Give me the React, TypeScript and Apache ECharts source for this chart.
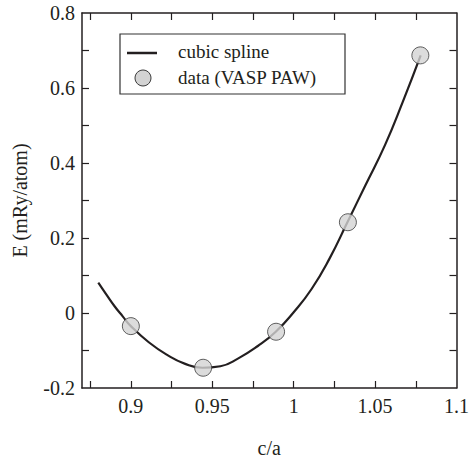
import React, { useEffect, useRef } from "react";
import * as echarts from "echarts";

const xTickValues = [0.875, 0.9, 0.925, 0.95, 0.975, 1.0, 1.025, 1.05, 1.075];
const xLabelValues = [0.9, 0.95, 1.0, 1.05, 1.1];
const yTickValues = [-0.1, 0, 0.1, 0.2, 0.3, 0.4, 0.5, 0.6, 0.7];
const yLabelValues = [-0.2, 0, 0.2, 0.4, 0.6, 0.8];

const dataX = [0.9, 0.9444, 0.9892, 1.0333, 1.0778];
const dataE = [-0.035, -0.146, -0.05, 0.242, 0.687];

const splineX = [0.88, 0.885, 0.89, 0.895, 0.9, 0.911, 0.922, 0.933, 0.944, 0.955, 0.966, 0.978, 0.989, 1.0, 1.011, 1.022, 1.033, 1.044, 1.056, 1.067, 1.078];
const splineE = [0.081, 0.049, 0.018, -0.009, -0.035, -0.078, -0.111, -0.135, -0.146, -0.142, -0.121, -0.088, -0.05, 0.002, 0.064, 0.145, 0.242, 0.34, 0.447, 0.563, 0.687];

const FONT = "Liberation Serif, Times New Roman, serif";
const INK = "#231f20";

export default function App() {
  const ref = useRef<HTMLDivElement>(null);
  useEffect(() => {
    if (!ref.current) return;
    const chart = echarts.init(ref.current, undefined, { renderer: "svg" });
    const axisLine = { show: true, onZero: false, lineStyle: { color: INK, width: 1.5 } };
    const tick = (vals: number[]) => ({
      show: true,
      inside: true,
      length: 7,
      customValues: vals,
      lineStyle: { color: INK, width: 1.2 },
    });
    const fmt = (v: number) => String(Math.round(v * 1000) / 1000);
    chart.setOption({
      animation: false,
      backgroundColor: "#ffffff",
      textStyle: { fontFamily: FONT },
      grid: { left: 82, right: 13, top: 13, bottom: 74, containLabel: false },
      graphic: [
        {
          type: "rect",
          shape: { x: 120, y: 34, width: 225, height: 60 },
          style: { fill: "#ffffff", stroke: "#333333", lineWidth: 1.2 },
          z: 100,
        },
        {
          type: "line",
          shape: { x1: 127, y1: 53, x2: 157, y2: 53 },
          style: { stroke: INK, lineWidth: 2.5 },
          z: 101,
        },
        {
          type: "circle",
          shape: { cx: 143, cy: 78, r: 8 },
          style: { fill: "#d3d3d3", stroke: "#3a3a3a", lineWidth: 1 },
          z: 101,
        },
        {
          type: "text",
          x: 178,
          y: 51,
          style: { text: "cubic spline", fontFamily: FONT, fontSize: 19, fill: INK, verticalAlign: "middle" },
          z: 101,
        },
        {
          type: "text",
          x: 178,
          y: 77,
          style: { text: "data (VASP PAW)", fontFamily: FONT, fontSize: 19, fill: INK, verticalAlign: "middle" },
          z: 101,
        },
      ],
      xAxis: [
        {
          type: "value",
          min: 0.87,
          max: 1.1,
          position: "bottom",
          name: "c/a",
          nameLocation: "middle",
          nameGap: 50,
          nameTextStyle: { fontFamily: FONT, fontSize: 20, color: INK },
          axisLine,
          axisTick: tick(xTickValues),
          axisLabel: {
            customValues: xLabelValues,
            formatter: fmt,
            fontFamily: FONT,
            fontSize: 20,
            color: INK,
            margin: 8,
          },
          splitLine: { show: false },
        },
        {
          type: "value",
          min: 0.87,
          max: 1.1,
          position: "top",
          axisLine,
          axisTick: tick(xTickValues),
          axisLabel: { show: false },
          splitLine: { show: false },
        },
      ],
      yAxis: [
        {
          type: "value",
          min: -0.2,
          max: 0.8,
          position: "left",
          name: "E (mRy/atom)",
          nameLocation: "middle",
          nameGap: 52,
          nameTextStyle: { fontFamily: FONT, fontSize: 20, color: INK },
          axisLine,
          axisTick: tick(yTickValues),
          axisLabel: {
            customValues: yLabelValues,
            formatter: fmt,
            fontFamily: FONT,
            fontSize: 20,
            color: INK,
            margin: 7,
          },
          splitLine: { show: false },
        },
        {
          type: "value",
          min: -0.2,
          max: 0.8,
          position: "right",
          axisLine,
          axisTick: tick(yTickValues),
          axisLabel: { show: false },
          splitLine: { show: false },
        },
      ],
      series: [
        {
          name: "cubic spline",
          type: "line",
          xAxisIndex: 0,
          yAxisIndex: 0,
          smooth: 0.5,
          symbol: "none",
          lineStyle: { color: INK, width: 2.2 },
          itemStyle: { color: INK },
          data: splineX.map((x, i) => [x, splineE[i]]),
          z: 2,
        },
        {
          name: "data (VASP PAW)",
          type: "scatter",
          xAxisIndex: 0,
          yAxisIndex: 0,
          symbol: "circle",
          symbolSize: 17,
          itemStyle: { color: "#d3d3d3", borderColor: "#3a3a3a", borderWidth: 1 },
          data: dataX.map((x, i) => [x, dataE[i]]),
          z: 3,
        },
      ],
    });
    return () => chart.dispose();
  }, []);
  return <div ref={ref} style={{ width: 472, height: 463, position: "absolute", left: 0, top: 0 }} />;
}
